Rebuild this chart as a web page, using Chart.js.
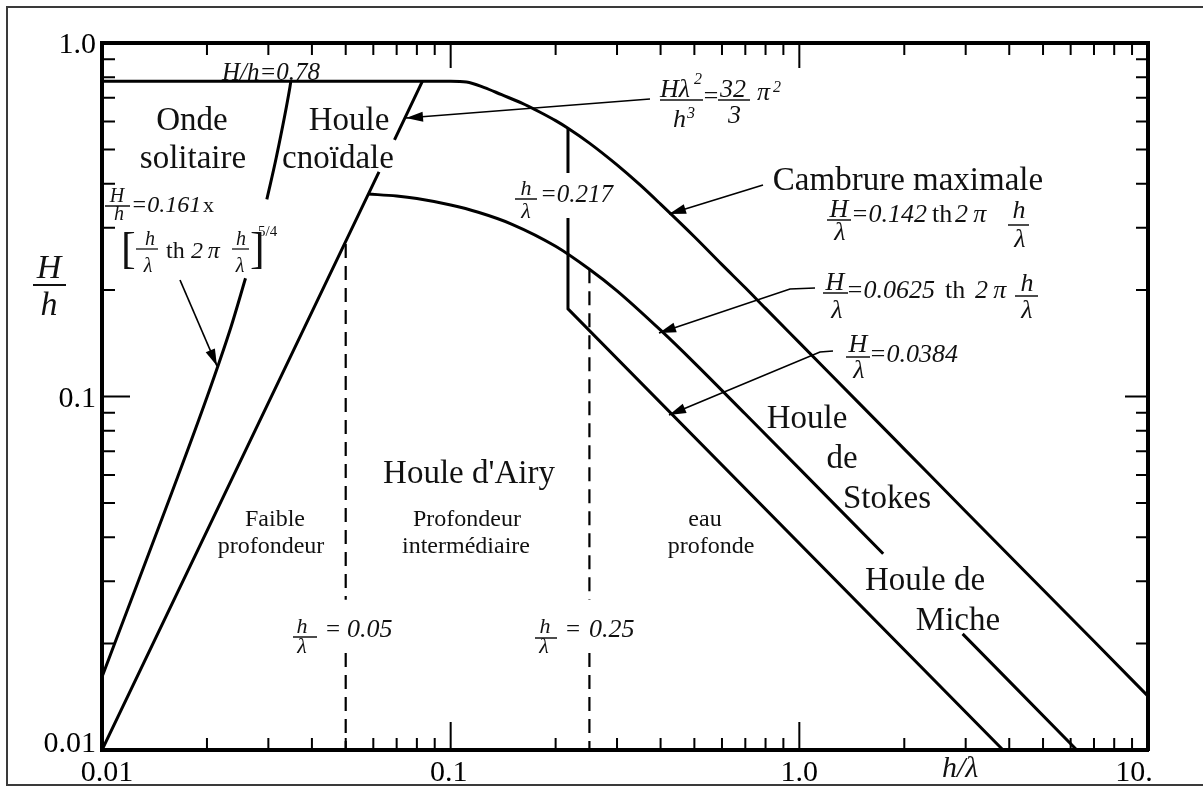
<!DOCTYPE html>
<html><head><meta charset="utf-8">
<script src="https://cdn.jsdelivr.net/npm/chart.js@4/dist/chart.umd.min.js"></script>
<style>html,body{margin:0;padding:0;background:#fff}canvas{display:block}</style>
</head><body>
<canvas id="c" width="1203" height="787"></canvas>
<script>
// ---- data (x = h/λ, y = H/h) ----
const cambrureX = [0.01, 0.1, 0.111, 0.125, 0.14, 0.16, 0.18, 0.2, 0.217, 0.25, 0.3, 0.35, 0.4, 0.5, 0.6, 0.7, 0.8, 1.0, 1.5, 2, 3, 5, 7, 10];
const cambrureY = [0.78, 0.78, 0.776, 0.748, 0.714, 0.676, 0.638, 0.603, 0.574, 0.521, 0.452, 0.396, 0.350, 0.283, 0.236, 0.203, 0.1775, 0.142, 0.0947, 0.071, 0.0473, 0.0284, 0.0203, 0.0142];
const stokesX = [0.058, 0.07, 0.08, 0.1, 0.12, 0.15, 0.2, 0.25, 0.3, 0.4, 0.5, 0.7, 1.0, 1.74, 2.3, 2.94, 6.25];
const stokesY = [0.374, 0.369, 0.363, 0.348, 0.332, 0.307, 0.266, 0.229, 0.199, 0.154, 0.1245, 0.0892, 0.0625, 0.0359, null, 0.0213, 0.01];
const micheX = [0.217, 0.217, 0.217, 0.217, 0.217, 3.84];
const micheY = [0.574, 0.429, null, 0.32, 0.177, 0.01];
const solitaireX = [0.01, 0.01259, 0.01585, 0.01995, 0.02344, 0.0258, 0.0277, 0.0297, 0.03162, 0.0346, 0.0348];
const solitaireY = [0.0161, 0.0293, 0.0534, 0.0988, 0.1573, 0.216, null, 0.361, 0.475, 0.751, 0.78];
const cnoidaleX = [0.01, 0.0623, 0.066, 0.069, 0.083];
const cnoidaleY = [0.01, 0.432, null, 0.532, 0.78];
const shallowX = [0.05, 0.05, 0.05, 0.05, 0.05];
const shallowY = [0.27, 0.0266, null, 0.0188, 0.01];
const deepX = [0.25, 0.25, 0.25, 0.25, 0.25];
const deepY = [0.229, 0.0266, null, 0.0188, 0.01];

// tick labels
const xTickValues = [0.01, 0.1, 1, 10];
const xTickLabels = ['0.01', '0.1', '1.0', '10.'];
const yTickValues = [1, 0.1, 0.01];
const yTickLabels = ['1.0', '0.1', '0.01'];
const decades = [0.01, 0.1, 1];
const minorMult = [2, 3, 4, 5, 6, 7, 8, 9];

// ---- layout / style (not data) ----
const SERIF = '"Liberation Serif", "Times New Roman", serif';
const font = (s, it) => (it ? 'italic ' : '') + s + 'px ' + SERIF;
const xLabelShift = [5, -2, 0, -14];
const yLabelShift = [10, 10, 2];

const plainLabels = [
  ['Onde',192,130,33,0,'center'], ['solitaire',193,168,33,0,'center'],
  ['Houle',349,130,33,0,'center'], ['cnoïdale',338,168,33,0,'center'],
  ["Houle d'Airy",469,483,33,0,'center'], ['Cambrure maximale',908,190,33,0,'center'],
  ['Houle',807,428,33,0,'center'], ['de',842,468,33,0,'center'], ['Stokes',887,508,33,0,'center'],
  ['Houle de',925,590,33,0,'center'], ['Miche',958,630,33,0,'center'],
  ['Faible',275,526,24,0,'center'], ['profondeur',271,553,24,0,'center'],
  ['Profondeur',467,526,24,0,'center'], ['intermédiaire',466,553,24,0,'center'],
  ['eau',705,526,24,0,'center'], ['profonde',711,553,24,0,'center'],
  ['H/h=0.78',222,80,25,1,'left'],
  ['H',117,202,20,1,'center'], ['h',119,220,20,1,'center'], ['=0.161',131,212,24,1,'left'], ['x',203,212,22,0,'left'],
  ['[',121,263,44,0,'left'], ['h',150,245,20,1,'center'], ['λ',148,272,20,1,'center'], ['th',166,258,24,0,'left'],
  ['2\u2009π',191,258,24,1,'left'], ['h',241,245,20,1,'center'], ['λ',240,272,20,1,'center'], [']',250,263,44,0,'left'], ['5/4',258,236,15,0,'left'],
  ['Hλ',660,97,26,1,'left'], ['2',694,84,16,1,'left'], ['h',673,127,26,1,'left'], ['3',687,118,16,1,'left'],
  ['=',702,104,26,1,'left'], ['32',720,97,26,1,'left'], ['3',728,123,26,1,'left'], ['π',757,100,26,1,'left'], ['2',773,92,16,1,'left'],
  ['h',526,195,22,1,'center'], ['λ',526,218,22,1,'center'], ['=0.217',540,202,25,1,'left'],
  ['h',302,633,22,1,'center'], ['λ',302,653,22,1,'center'], ['=',326,637,25,0,'left'], ['0.05',347,637,26,1,'left'],
  ['h',545,633,22,1,'center'], ['λ',544,653,22,1,'center'], ['=',566,637,25,0,'left'], ['0.25',589,637,26,1,'left'],
  ['H',839,217,26,1,'center'], ['λ',840,240,26,1,'center'], ['=0.142',851,222,26,1,'left'], ['th',932,222,26,0,'left'],
  ['2\u2009π',955,222,26,1,'left'], ['h',1019,218,26,1,'center'], ['λ',1020,247,26,1,'center'],
  ['H',835,290,26,1,'center'], ['λ',837,318,26,1,'center'], ['=0.0625',846,298,26,1,'left'], ['th',945,298,26,0,'left'],
  ['2\u2009π',975,298,26,1,'left'], ['h',1027,291,26,1,'center'], ['λ',1027,318,26,1,'center'],
  ['H',858,352,26,1,'center'], ['λ',859,378,26,1,'center'], ['=0.0384',869,362,26,1,'left'],
  ['H',49,278,34,1,'center'], ['h',49,315,34,1,'center'], ['h/λ',942,777,30,1,'left']
];
const fracBars = [
  [105,130,206,1.5],[136,158,249,1.3],[232,249,249,1.3],[660,703,100,1.5],[718,750,100,1.5],
  [515,537,199,1.5],[293,317,637,1.5],[535,557,638,1.5],[827,851,220,1.5],[1008,1029,225,1.5],
  [823,848,293,1.5],[1015,1038,296,1.5],[846,870,357,1.5],[33,66,285,2.2]
];
const arrows = [
  [[180,280],[217,366]],
  [[650,99],[406,118]],
  [[763,185],[669,214]],
  [[815,288],[790,289],[659,333]],
  [[833,351],[820,352],[669,415]]
];

const pts = (xs, ys) => xs.map((x, i) => ({x: x, y: ys[i]}));
const solid = (xs, ys, curved) => ({
  data: pts(xs, ys), showLine: true, borderColor: '#000', borderWidth: 3, pointRadius: 0,
  spanGaps: false, tension: 0, cubicInterpolationMode: curved ? 'monotone' : 'default', fill: false
});
const dashed = (xs, ys) => ({
  data: pts(xs, ys), showLine: true, borderColor: '#000', borderWidth: 2.2, borderDash: [14, 8],
  pointRadius: 0, spanGaps: false, tension: 0, fill: false
});

const decor = {
  id: 'decor',
  beforeDraw(chart) {
    const c = chart.ctx;
    c.save(); c.fillStyle = '#fff'; c.fillRect(0, 0, chart.width, chart.height);
    c.strokeStyle = '#3a3a3a'; c.lineWidth = 2;
    c.beginPath(); c.moveTo(1203, 7); c.lineTo(7, 7); c.lineTo(7, 785); c.lineTo(1203, 785); c.stroke();
    c.restore();
  },
  afterDatasetsDraw(chart) {
    const c = chart.ctx, sx = chart.scales.x, sy = chart.scales.y;
    const a = chart.chartArea;
    c.save();
    c.strokeStyle = '#000'; c.lineWidth = 2;
    // inward tick marks
    c.beginPath();
    decades.forEach(d => {
      minorMult.forEach(m => {
        const v = d * m;
        if (v < 10) {
          const px = sx.getPixelForValue(v);
          c.moveTo(px, a.bottom); c.lineTo(px, a.bottom - 12);
          c.moveTo(px, a.top); c.lineTo(px, a.top + 12);
        }
        if (v < 1) {
          const py = sy.getPixelForValue(v);
          c.moveTo(a.left, py); c.lineTo(a.left + 13, py);
          c.moveTo(a.right, py); c.lineTo(a.right - 12, py);
        }
      });
    });
    [0.1, 1].forEach(v => {
      const px = sx.getPixelForValue(v);
      c.moveTo(px, a.bottom); c.lineTo(px, a.bottom - 28);
      c.moveTo(px, a.top); c.lineTo(px, a.top + 25);
    });
    const p1 = sy.getPixelForValue(0.1);
    c.moveTo(a.left, p1); c.lineTo(a.left + 28, p1);
    c.moveTo(a.right, p1); c.lineTo(a.right - 23, p1);
    c.stroke();

    // tick labels
    c.fillStyle = '#000'; c.textBaseline = 'alphabetic';
    c.font = font(30, false);
    c.textAlign = 'center';
    xTickValues.forEach((v, i) => c.fillText(xTickLabels[i], sx.getPixelForValue(v) + xLabelShift[i], 781));
    c.textAlign = 'right';
    yTickValues.forEach((v, i) => c.fillText(yTickLabels[i], a.left - 6, sy.getPixelForValue(v) + yLabelShift[i]));

    // labels
    plainLabels.forEach(L => {
      c.font = font(L[3], L[4]); c.textAlign = L[5]; c.fillStyle = '#111';
      c.fillText(L[0], L[1], L[2]);
    });
    c.strokeStyle = '#111';
    fracBars.forEach(b => { c.lineWidth = b[3]; c.beginPath(); c.moveTo(b[0], b[2]); c.lineTo(b[1], b[2]); c.stroke(); });

    // arrows
    c.strokeStyle = '#000'; c.fillStyle = '#000';
    arrows.forEach(p => {
      c.lineWidth = 1.7; c.beginPath(); c.moveTo(p[0][0], p[0][1]);
      for (let i = 1; i < p.length; i++) c.lineTo(p[i][0], p[i][1]);
      c.stroke();
      const e = p[p.length - 1], s = p[p.length - 2];
      const ang = Math.atan2(e[1] - s[1], e[0] - s[0]);
      const L = 17, W = 5;
      c.beginPath();
      c.moveTo(e[0], e[1]);
      c.lineTo(e[0] - L * Math.cos(ang) + W * Math.sin(ang), e[1] - L * Math.sin(ang) - W * Math.cos(ang));
      c.lineTo(e[0] - L * Math.cos(ang) - W * Math.sin(ang), e[1] - L * Math.sin(ang) + W * Math.cos(ang));
      c.closePath(); c.fill();
    });
    c.restore();
  }
};

const axisOpts = (pos, min, max, horiz) => ({
  type: 'logarithmic', position: pos, min: min, max: max, display: true,
  ticks: {display: false}, grid: {display: false, drawTicks: false},
  border: {display: true, width: 4, color: '#000'},
  afterFit: s => { if (horiz) s.height = 0; else s.width = 0; }
});

new Chart(document.getElementById('c'), {
  type: 'scatter',
  data: {
    datasets: [
      solid(cambrureX, cambrureY, true),
      solid(stokesX, stokesY, true),
      solid(micheX, micheY, false),
      solid(solitaireX, solitaireY, true),
      solid(cnoidaleX, cnoidaleY, false),
      dashed(shallowX, shallowY),
      dashed(deepX, deepY)
    ]
  },
  options: {
    responsive: false, animation: false, devicePixelRatio: 1,
    layout: {padding: {left: 102, top: 43, right: 55, bottom: 37}},
    plugins: {legend: {display: false}, tooltip: {enabled: false}},
    scales: {
      x: axisOpts('bottom', 0.01, 10, true),
      y: axisOpts('left', 0.01, 1, false),
      x2: axisOpts('top', 0.01, 10, true),
      y2: axisOpts('right', 0.01, 1, false)
    }
  },
  plugins: [decor]
});
</script>
</body></html>
